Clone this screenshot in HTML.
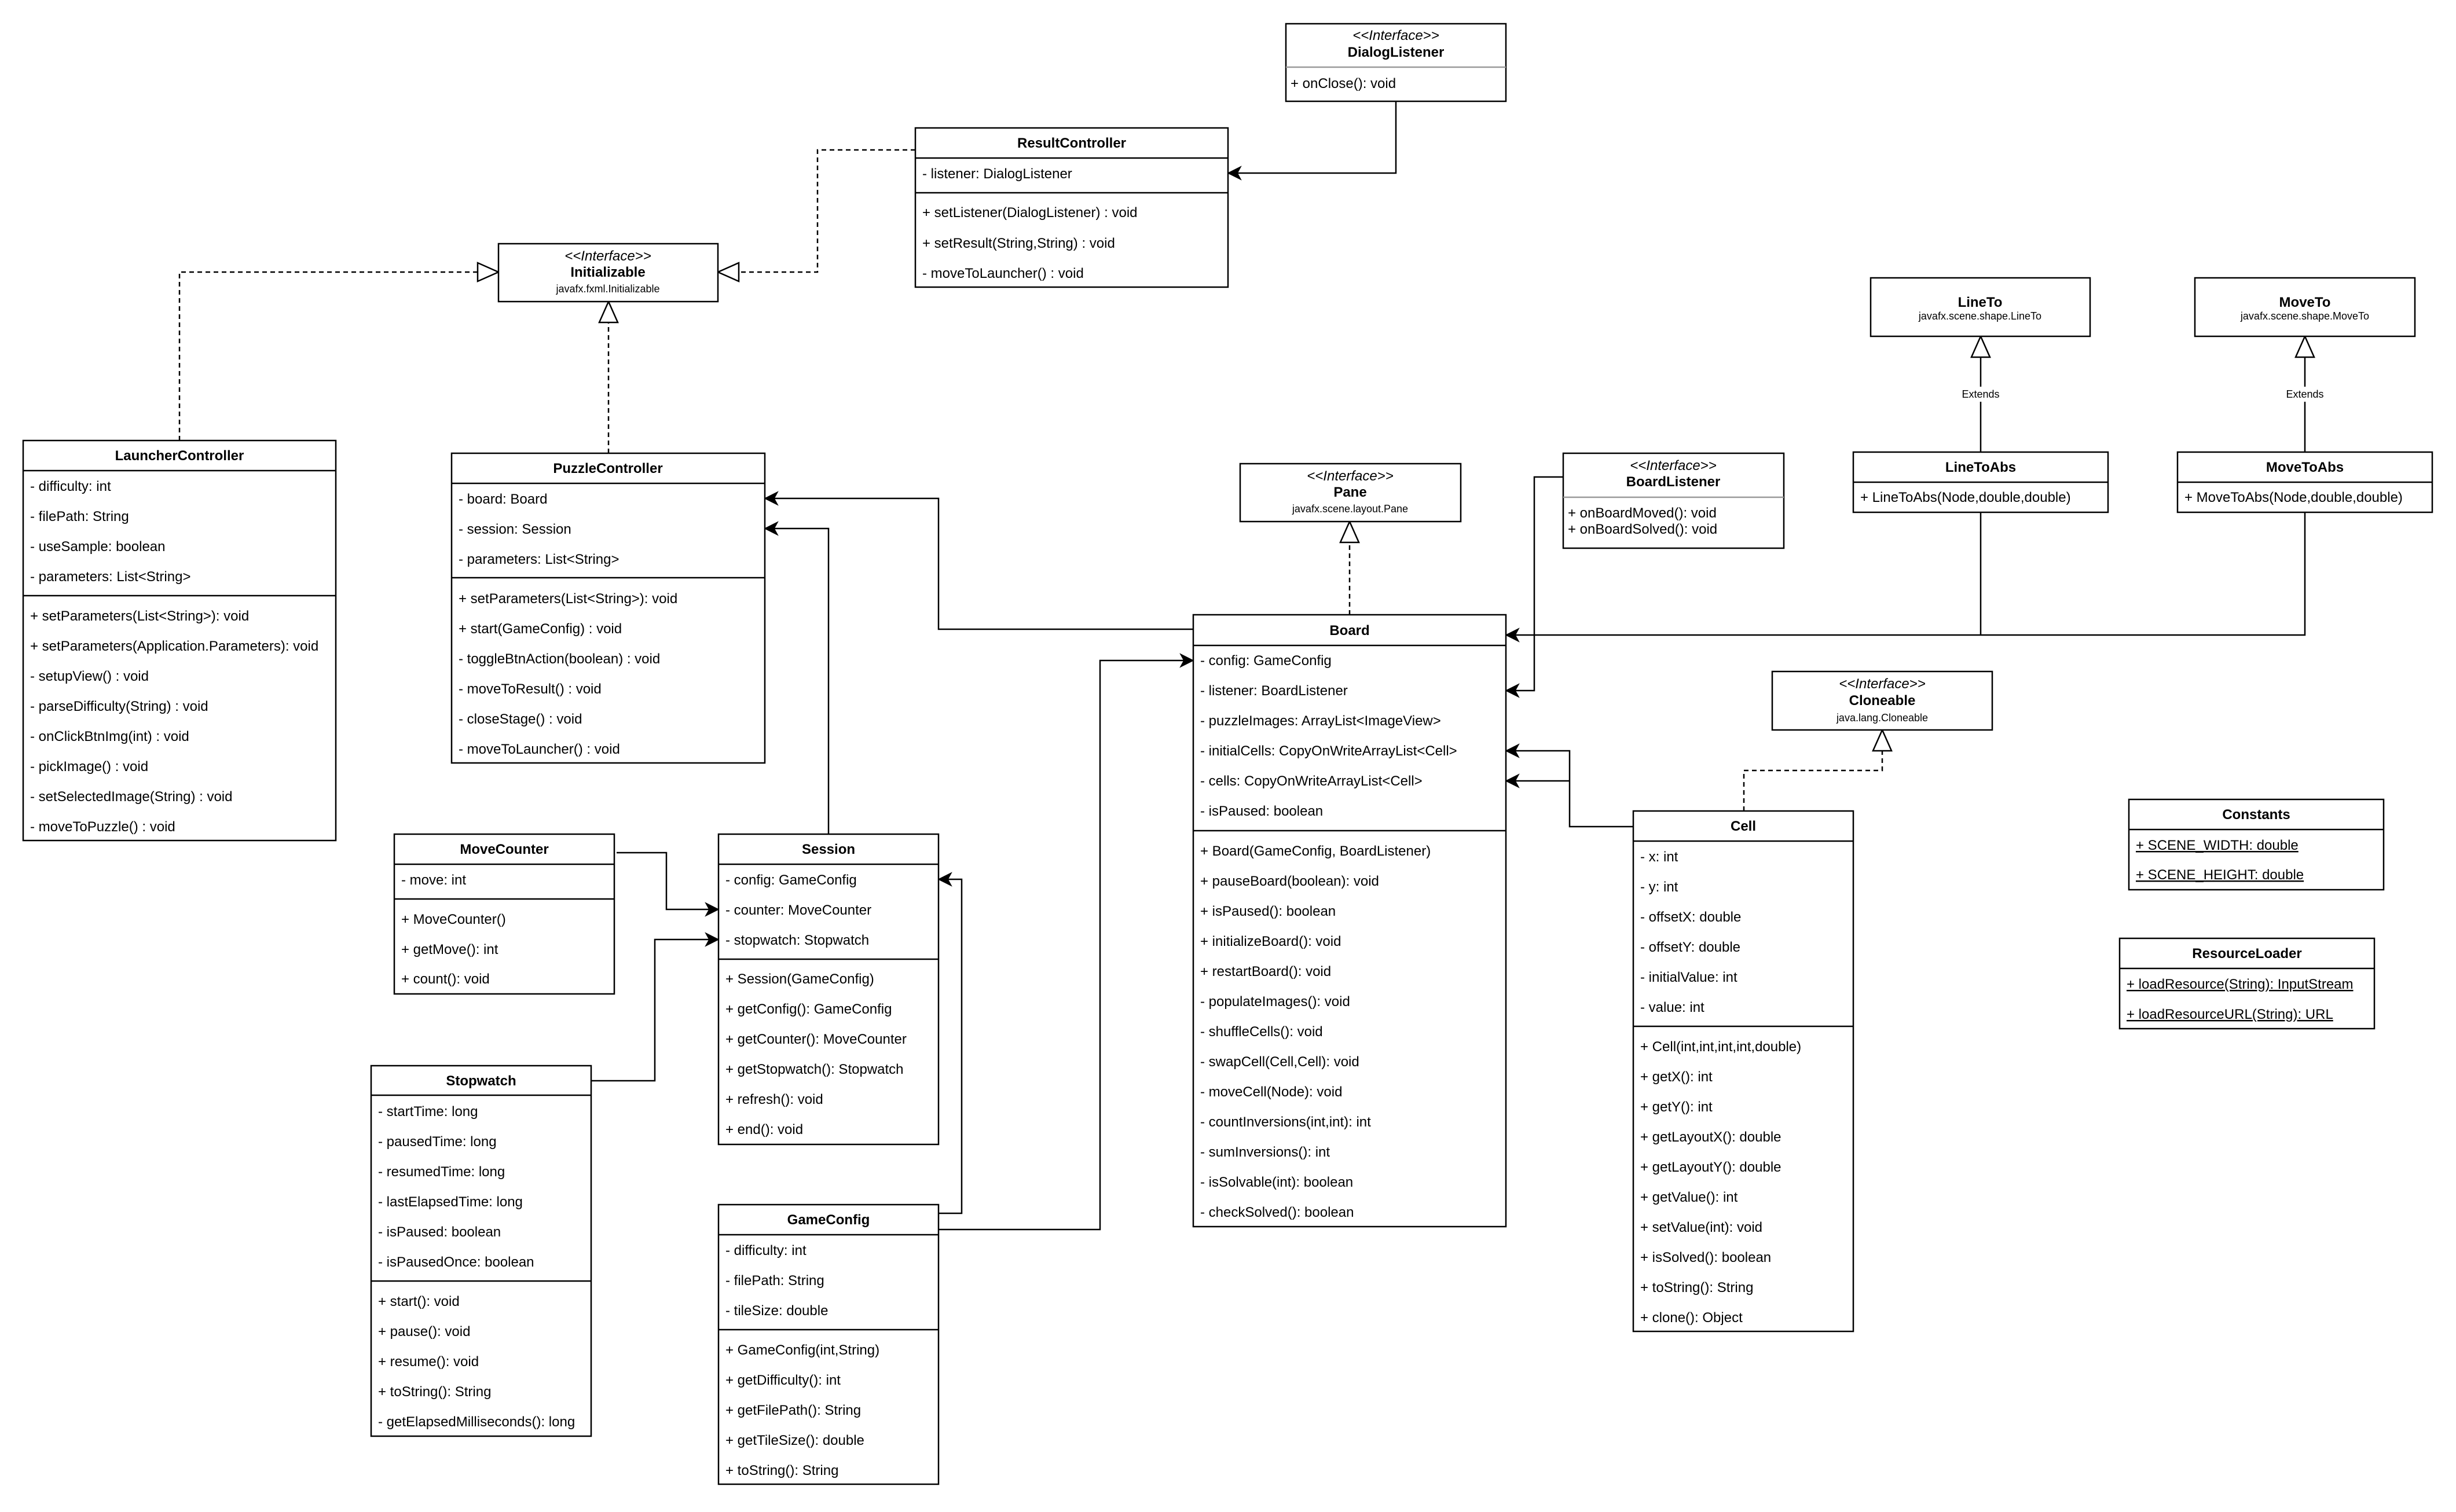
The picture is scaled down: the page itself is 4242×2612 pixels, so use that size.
<!DOCTYPE html>
<html><head><meta charset="utf-8"><style>
html,body{margin:0;padding:0;background:#fff;}
svg{display:block;}
text{font-family:"Liberation Sans",Arial,sans-serif;font-size:24px;fill:#000;}
.t{font-weight:bold;text-anchor:middle;}
.c{text-anchor:middle;}
.s{font-style:italic;text-anchor:middle;}
.p{font-size:18px;text-anchor:middle;}
.u{text-decoration:underline;}
rect,.ln{fill:none;stroke:#000;stroke-width:2.5;}
rect.b{fill:#fff;}
.dl{fill:none;stroke:#000;stroke-width:2.5;stroke-dasharray:8 6;}
.ar{fill:#000;stroke:#000;stroke-width:1.5;}
.tr{fill:#fff;stroke:#000;stroke-width:2.5;}
</style></head><body>
<svg width="4242" height="2612" viewBox="0 0 4242 2612" xmlns="http://www.w3.org/2000/svg">
<rect x="0" y="0" width="4242" height="2612" style="fill:#fff;stroke:none"/>

<!-- connectors -->
<path class="ln" d="M2411 175 V299 H2125"/>
<path class="ar" d="M2121 299 L2143 288 L2137 299 L2143 310 Z"/>

<path class="dl" d="M310 761 V470 H825"/>
<path class="tr" d="M861 470 L825 454 L825 486 Z"/>
<path class="dl" d="M1581 259 H1412 V470 H1276"/>
<path class="tr" d="M1240 470 L1276 454 L1276 486 Z"/>
<path class="dl" d="M1051 783 V557"/>
<path class="tr" d="M1051 521 L1035 557 L1067 557 Z"/>

<path class="ln" d="M2061 1087 H1621 V861 H1325"/>
<path class="ar" d="M1321 861 L1343 850 L1337 861 L1343 872 Z"/>
<path class="ln" d="M1431 1441 V913 H1325"/>
<path class="ar" d="M1321 913 L1343 902 L1337 913 L1343 924 Z"/>

<path class="dl" d="M2331 1062 V937"/>
<path class="tr" d="M2331 901 L2315 937 L2347 937 Z"/>

<path class="ln" d="M3421 885 V1097 H2605 M3981 885 V1097 H3421"/>
<path class="ar" d="M2601 1097 L2623 1086 L2617 1097 L2623 1108 Z"/>
<path class="ln" d="M3421 781 V617 M3981 781 V617"/>
<path class="tr" d="M3421 581 L3405 617 L3437 617 Z"/>
<path class="tr" d="M3981 581 L3965 617 L3997 617 Z"/>
<rect x="3391" y="668" width="60" height="26" style="fill:#fff;stroke:none"/>
<rect x="3951" y="668" width="60" height="26" style="fill:#fff;stroke:none"/>
<text class="p" x="3421" y="687">Extends</text>
<text class="p" x="3981" y="687">Extends</text>

<path class="ln" d="M2700 824 H2650 V1193 H2605"/>
<path class="ar" d="M2601 1193 L2623 1182 L2617 1193 L2623 1204 Z"/>
<path class="ln" d="M2821 1428 H2711 V1297 H2605 M2711 1349 H2605"/>
<path class="ar" d="M2601 1297 L2623 1286 L2617 1297 L2623 1308 Z"/>
<path class="ar" d="M2601 1349 L2623 1338 L2617 1349 L2623 1360 Z"/>
<path class="dl" d="M3012 1401 V1331 H3251 V1297"/>
<path class="tr" d="M3251 1261 L3235 1297 L3267 1297 Z"/>

<path class="ln" d="M1621 2124 H1900 V1141 H2057"/>
<path class="ar" d="M2061 1141 L2039 1130 L2045 1141 L2039 1152 Z"/>
<path class="ln" d="M1621 2096 H1661 V1519 H1625"/>
<path class="ar" d="M1621 1519 L1643 1508 L1637 1519 L1643 1530 Z"/>
<path class="ln" d="M1065 1473 H1151 V1571 H1237"/>
<path class="ar" d="M1241 1571 L1219 1560 L1225 1571 L1219 1582 Z"/>
<path class="ln" d="M1021 1867 H1131 V1623 H1237"/>
<path class="ar" d="M1241 1623 L1219 1612 L1225 1623 L1219 1634 Z"/>

<!-- DialogListener -->
<rect class="b" x="2221" y="41" width="380" height="134"/>
<line x1="2221" y1="116" x2="2601" y2="116" style="stroke:#999;stroke-width:2.5"/>
<text class="s" x="2411" y="69">&lt;&lt;Interface&gt;&gt;</text>
<text class="t" x="2411" y="98">DialogListener</text>
<text x="2229" y="152">+ onClose(): void</text>

<!-- ResultController -->
<rect class="b" x="1581" y="221" width="540" height="275"/>
<path class="ln" d="M1581 273 H2121 M1581 333 H2121"/>
<text class="t" x="1851" y="255">ResultController</text>
<text x="1593" y="308">- listener: DialogListener</text>
<text x="1593" y="375">+ setListener(DialogListener) : void</text>
<text x="1593" y="428">+ setResult(String,String) : void</text>
<text x="1593" y="480">- moveToLauncher() : void</text>

<!-- Initializable -->
<rect class="b" x="861" y="421" width="379" height="100"/>
<text class="s" x="1050" y="450">&lt;&lt;Interface&gt;&gt;</text>
<text class="t" x="1050" y="478">Initializable</text>
<text class="p" x="1050" y="505">javafx.fxml.Initializable</text>

<!-- LauncherController -->
<rect class="b" x="40" y="761" width="540" height="691"/>
<path class="ln" d="M40 813 H580 M40 1029 H580"/>
<text class="t" x="310" y="795">LauncherController</text>
<text x="52" y="848">- difficulty: int</text>
<text x="52" y="900">- filePath: String</text>
<text x="52" y="952">- useSample: boolean</text>
<text x="52" y="1004">- parameters: List&lt;String&gt;</text>
<text x="52" y="1072">+ setParameters(List&lt;String&gt;): void</text>
<text x="52" y="1124">+ setParameters(Application.Parameters): void</text>
<text x="52" y="1176">- setupView() : void</text>
<text x="52" y="1228">- parseDifficulty(String) : void</text>
<text x="52" y="1280">- onClickBtnImg(int) : void</text>
<text x="52" y="1332">- pickImage() : void</text>
<text x="52" y="1384">- setSelectedImage(String) : void</text>
<text x="52" y="1436">- moveToPuzzle() : void</text>

<!-- PuzzleController -->
<rect class="b" x="780" y="783" width="541" height="535"/>
<path class="ln" d="M780 835 H1321 M780 998 H1321"/>
<text class="t" x="1050" y="817">PuzzleController</text>
<text x="792" y="870">- board: Board</text>
<text x="792" y="922">- session: Session</text>
<text x="792" y="974">- parameters: List&lt;String&gt;</text>
<text x="792" y="1042">+ setParameters(List&lt;String&gt;): void</text>
<text x="792" y="1094">+ start(GameConfig) : void</text>
<text x="792" y="1146">- toggleBtnAction(boolean) : void</text>
<text x="792" y="1198">- moveToResult() : void</text>
<text x="792" y="1250">- closeStage() : void</text>
<text x="792" y="1302">- moveToLauncher() : void</text>

<!-- Pane -->
<rect class="b" x="2142" y="801" width="381" height="100"/>
<text class="s" x="2332" y="830">&lt;&lt;Interface&gt;&gt;</text>
<text class="t" x="2332" y="858">Pane</text>
<text class="p" x="2332" y="885">javafx.scene.layout.Pane</text>

<!-- BoardListener -->
<rect class="b" x="2700" y="783" width="381" height="164"/>
<line x1="2700" y1="859" x2="3081" y2="859" style="stroke:#999;stroke-width:2.5"/>
<text class="s" x="2890" y="812">&lt;&lt;Interface&gt;&gt;</text>
<text class="t" x="2890" y="840">BoardListener</text>
<text x="2708" y="894">+ onBoardMoved(): void</text>
<text x="2708" y="922">+ onBoardSolved(): void</text>

<!-- LineTo / MoveTo -->
<rect class="b" x="3231" y="480" width="379" height="101"/>
<text class="t" x="3420" y="530">LineTo</text>
<text class="p" x="3420" y="552">javafx.scene.shape.LineTo</text>
<rect class="b" x="3791" y="480" width="380" height="101"/>
<text class="t" x="3981" y="530">MoveTo</text>
<text class="p" x="3981" y="552">javafx.scene.shape.MoveTo</text>

<rect class="b" x="3201" y="781" width="440" height="104"/>
<path class="ln" d="M3201 833 H3641"/>
<text class="t" x="3421" y="815">LineToAbs</text>
<text x="3213" y="867">+ LineToAbs(Node,double,double)</text>
<rect class="b" x="3761" y="781" width="440" height="104"/>
<path class="ln" d="M3761 833 H4201"/>
<text class="t" x="3981" y="815">MoveToAbs</text>
<text x="3773" y="867">+ MoveToAbs(Node,double,double)</text>

<!-- Cloneable -->
<rect class="b" x="3061" y="1160" width="380" height="101"/>
<text class="s" x="3251" y="1189">&lt;&lt;Interface&gt;&gt;</text>
<text class="t" x="3251" y="1218">Cloneable</text>
<text class="p" x="3251" y="1246">java.lang.Cloneable</text>

<!-- Board -->
<rect class="b" x="2061" y="1062" width="540" height="1057"/>
<path class="ln" d="M2061 1115 H2601 M2061 1435 H2601"/>
<text class="t" x="2331" y="1097">Board</text>
<text x="2073" y="1149">- config: GameConfig</text>
<text x="2073" y="1201">- listener: BoardListener</text>
<text x="2073" y="1253">- puzzleImages: ArrayList&lt;ImageView&gt;</text>
<text x="2073" y="1305">- initialCells: CopyOnWriteArrayList&lt;Cell&gt;</text>
<text x="2073" y="1357">- cells: CopyOnWriteArrayList&lt;Cell&gt;</text>
<text x="2073" y="1409">- isPaused: boolean</text>
<text x="2073" y="1478">+ Board(GameConfig, BoardListener)</text>
<text x="2073" y="1530">+ pauseBoard(boolean): void</text>
<text x="2073" y="1582">+ isPaused(): boolean</text>
<text x="2073" y="1634">+ initializeBoard(): void</text>
<text x="2073" y="1686">+ restartBoard(): void</text>
<text x="2073" y="1738">- populateImages(): void</text>
<text x="2073" y="1790">- shuffleCells(): void</text>
<text x="2073" y="1842">- swapCell(Cell,Cell): void</text>
<text x="2073" y="1894">- moveCell(Node): void</text>
<text x="2073" y="1946">- countInversions(int,int): int</text>
<text x="2073" y="1998">- sumInversions(): int</text>
<text x="2073" y="2050">- isSolvable(int): boolean</text>
<text x="2073" y="2102">- checkSolved(): boolean</text>

<!-- Cell -->
<rect class="b" x="2821" y="1401" width="380" height="899"/>
<path class="ln" d="M2821 1453 H3201 M2821 1773 H3201"/>
<text class="t" x="3011" y="1435">Cell</text>
<text x="2833" y="1488">- x: int</text>
<text x="2833" y="1540">- y: int</text>
<text x="2833" y="1592">- offsetX: double</text>
<text x="2833" y="1644">- offsetY: double</text>
<text x="2833" y="1696">- initialValue: int</text>
<text x="2833" y="1748">- value: int</text>
<text x="2833" y="1816">+ Cell(int,int,int,int,double)</text>
<text x="2833" y="1868">+ getX(): int</text>
<text x="2833" y="1920">+ getY(): int</text>
<text x="2833" y="1972">+ getLayoutX(): double</text>
<text x="2833" y="2024">+ getLayoutY(): double</text>
<text x="2833" y="2076">+ getValue(): int</text>
<text x="2833" y="2128">+ setValue(int): void</text>
<text x="2833" y="2180">+ isSolved(): boolean</text>
<text x="2833" y="2232">+ toString(): String</text>
<text x="2833" y="2284">+ clone(): Object</text>

<!-- MoveCounter -->
<rect class="b" x="681" y="1441" width="380" height="276"/>
<path class="ln" d="M681 1493 H1061 M681 1553 H1061"/>
<text class="t" x="871" y="1475">MoveCounter</text>
<text x="693" y="1528">- move: int</text>
<text x="693" y="1596">+ MoveCounter()</text>
<text x="693" y="1648">+ getMove(): int</text>
<text x="693" y="1699">+ count(): void</text>

<!-- Session -->
<rect class="b" x="1241" y="1441" width="380" height="536"/>
<path class="ln" d="M1241 1493 H1621 M1241 1657 H1621"/>
<text class="t" x="1431" y="1475">Session</text>
<text x="1253" y="1528">- config: GameConfig</text>
<text x="1253" y="1580">- counter: MoveCounter</text>
<text x="1253" y="1632">- stopwatch: Stopwatch</text>
<text x="1253" y="1699">+ Session(GameConfig)</text>
<text x="1253" y="1751">+ getConfig(): GameConfig</text>
<text x="1253" y="1803">+ getCounter(): MoveCounter</text>
<text x="1253" y="1855">+ getStopwatch(): Stopwatch</text>
<text x="1253" y="1907">+ refresh(): void</text>
<text x="1253" y="1959">+ end(): void</text>

<!-- Stopwatch -->
<rect class="b" x="641" y="1841" width="380" height="640"/>
<path class="ln" d="M641 1892 H1021 M641 2213 H1021"/>
<text class="t" x="831" y="1875">Stopwatch</text>
<text x="653" y="1928">- startTime: long</text>
<text x="653" y="1980">- pausedTime: long</text>
<text x="653" y="2032">- resumedTime: long</text>
<text x="653" y="2084">- lastElapsedTime: long</text>
<text x="653" y="2136">- isPaused: boolean</text>
<text x="653" y="2188">- isPausedOnce: boolean</text>
<text x="653" y="2256">+ start(): void</text>
<text x="653" y="2308">+ pause(): void</text>
<text x="653" y="2360">+ resume(): void</text>
<text x="653" y="2412">+ toString(): String</text>
<text x="653" y="2464">- getElapsedMilliseconds(): long</text>

<!-- GameConfig -->
<rect class="b" x="1241" y="2081" width="380" height="483"/>
<path class="ln" d="M1241 2133 H1621 M1241 2297 H1621"/>
<text class="t" x="1431" y="2115">GameConfig</text>
<text x="1253" y="2168">- difficulty: int</text>
<text x="1253" y="2220">- filePath: String</text>
<text x="1253" y="2272">- tileSize: double</text>
<text x="1253" y="2340">+ GameConfig(int,String)</text>
<text x="1253" y="2392">+ getDifficulty(): int</text>
<text x="1253" y="2444">+ getFilePath(): String</text>
<text x="1253" y="2496">+ getTileSize(): double</text>
<text x="1253" y="2548">+ toString(): String</text>

<!-- Constants -->
<rect class="b" x="3677" y="1381" width="440" height="156"/>
<path class="ln" d="M3677 1433 H4117"/>
<text class="t" x="3897" y="1415">Constants</text>
<text class="u" x="3689" y="1468">+ SCENE_WIDTH: double</text>
<text class="u" x="3689" y="1519">+ SCENE_HEIGHT: double</text>

<!-- ResourceLoader -->
<rect class="b" x="3661" y="1621" width="440" height="156"/>
<path class="ln" d="M3661 1673 H4101"/>
<text class="t" x="3881" y="1655">ResourceLoader</text>
<text class="u" x="3673" y="1708">+ loadResource(String): InputStream</text>
<text class="u" x="3673" y="1760">+ loadResourceURL(String): URL</text>
</svg>
</body></html>
